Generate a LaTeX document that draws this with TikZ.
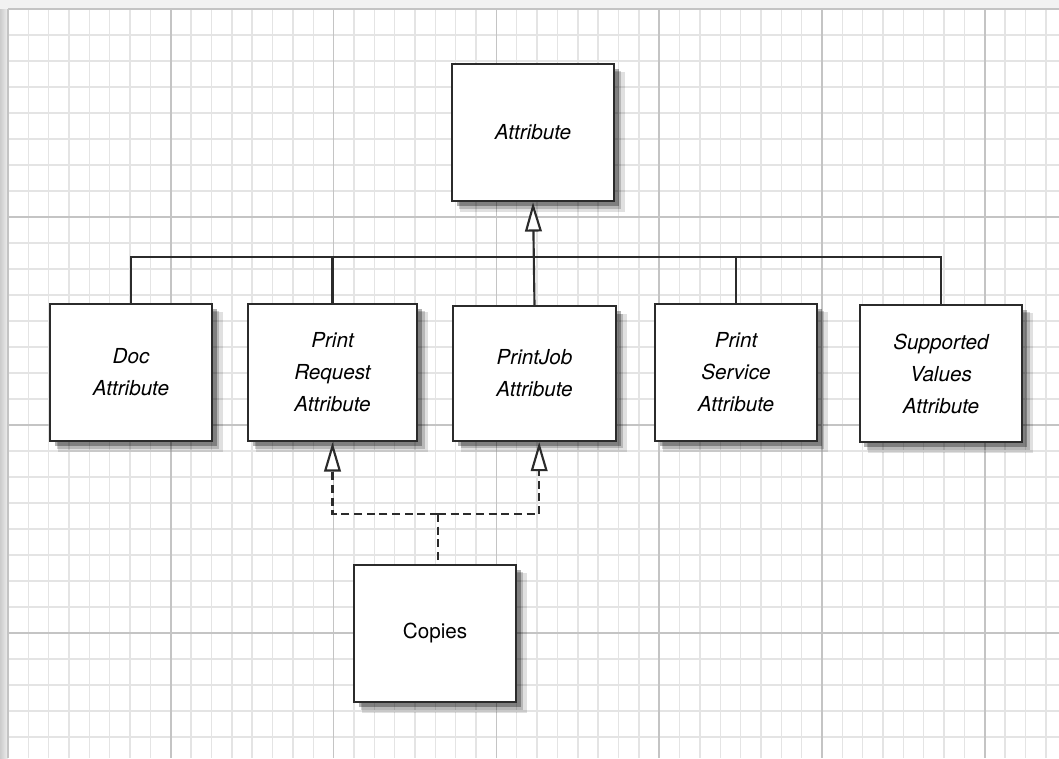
\documentclass[tikz,border=0pt]{standalone}
\usepackage{fontspec}
\setmainfont{TeX Gyre Heros}
\usepackage{xcolor}
\usepackage{tikz}
\usetikzlibrary{arrows.meta,positioning,calc,shadows}
\definecolor{lineclr}{HTML}{2B2B2B}
\definecolor{gridclr}{HTML}{E4E4E4}
\definecolor{majclr}{HTML}{C4C4C4}

\begin{document}
\begin{tikzpicture}[x=0.75pt,y=-0.75pt,
  cls/.style={draw=lineclr,line width=1.6pt,fill=white,align=center,
    font=\fontsize{15.5}{24}\selectfont\itshape,inner sep=0pt,
    drop shadow={shadow xshift=7pt,shadow yshift=-7pt,shadow scale=1.02,fill=black,opacity=.12},
    drop shadow={shadow xshift=5.5pt,shadow yshift=-5.5pt,fill=black,opacity=.18},
    drop shadow={shadow xshift=3.5pt,shadow yshift=-3.5pt,fill=black,opacity=.3}},
  conn/.style={draw=lineclr,line width=1.6pt},
  inh/.style={conn,-{Triangle[open,length=22pt,width=12.5pt,fill=white]}},
  impl/.style={inh,dash pattern=on 6pt off 3.5pt}]
  \useasboundingbox (0,0) rectangle (1059,758);
  % papier quadrille
  \fill[gray!10] (0,0) rectangle (1059,758);
  \shade[left color=gray!40,right color=gray!12] (0,9) rectangle (8,758);
  \fill[white] (8,9) rectangle (1059,758);
  \foreach \i in {0,...,51} \draw[gridclr,line width=1.1pt] ({8+20.35*\i},9) -- ({8+20.35*\i},758);
  \foreach \j in {0,...,28} \draw[gridclr,line width=1.1pt] (8,{9+26*\j}) -- (1059,{9+26*\j});
  \foreach \i in {0,8,...,48} \draw[majclr,line width=1.1pt] ({8+20.35*\i},9) -- ({8+20.35*\i},758);
  \foreach \j in {0,8,16,24} \draw[majclr,line width=1.1pt] (8,{9+26*\j}) -- (1059,{9+26*\j});
  % classes
  \node[cls,minimum width=121.5pt,minimum height=103pt] (attr) at (533,132.5) {Attribute};
  \node[cls,minimum width=121.5pt,minimum height=103pt] (doc) at (131,372.5) {Doc\\Attribute};
  \node[cls,minimum width=127pt,minimum height=103pt] (pra) at (332.5,372.5) {Print\\Request\\Attribute};
  \node[cls,minimum width=122pt,minimum height=101pt] (pj) at (534.5,373.5) {PrintJob\\Attribute};
  \node[cls,minimum width=121.5pt,minimum height=103pt] (psa) at (736,372.5) {Print\\Service\\Attribute};
  \node[cls,minimum width=122pt,minimum height=103pt] (svs) at (941,373.5) {Supported\\Values\\Attribute};
  \node[cls,minimum width=121.5pt,minimum height=103pt,font=\fontsize{15.5}{24}\selectfont] (copies) at (435,633.5) {Copies};
  % heritage
  \coordinate (bus) at (534,257);
  \draw[conn] (doc.north) -- (doc.north |- bus) -- (svs.north |- bus) -- (svs.north);
  \draw[conn] (pra.north) -- (pra.north |- bus);
  \draw[conn] (psa.north) -- (psa.north |- bus);
  \draw[inh] (pj.north) -- (attr.south);
  % interfaces
  \coordinate (join) at (438,514);
  \draw[impl] (join) -- (pra.south |- join) -- (pra.south);
  \draw[impl] (join) -- ([xshift=3.5pt]pj.south |- join) -- ([xshift=3.5pt]pj.south);
  \draw[conn,dash pattern=on 6pt off 3.5pt] (join) -- (join |- copies.north);
\end{tikzpicture}
\end{document}
